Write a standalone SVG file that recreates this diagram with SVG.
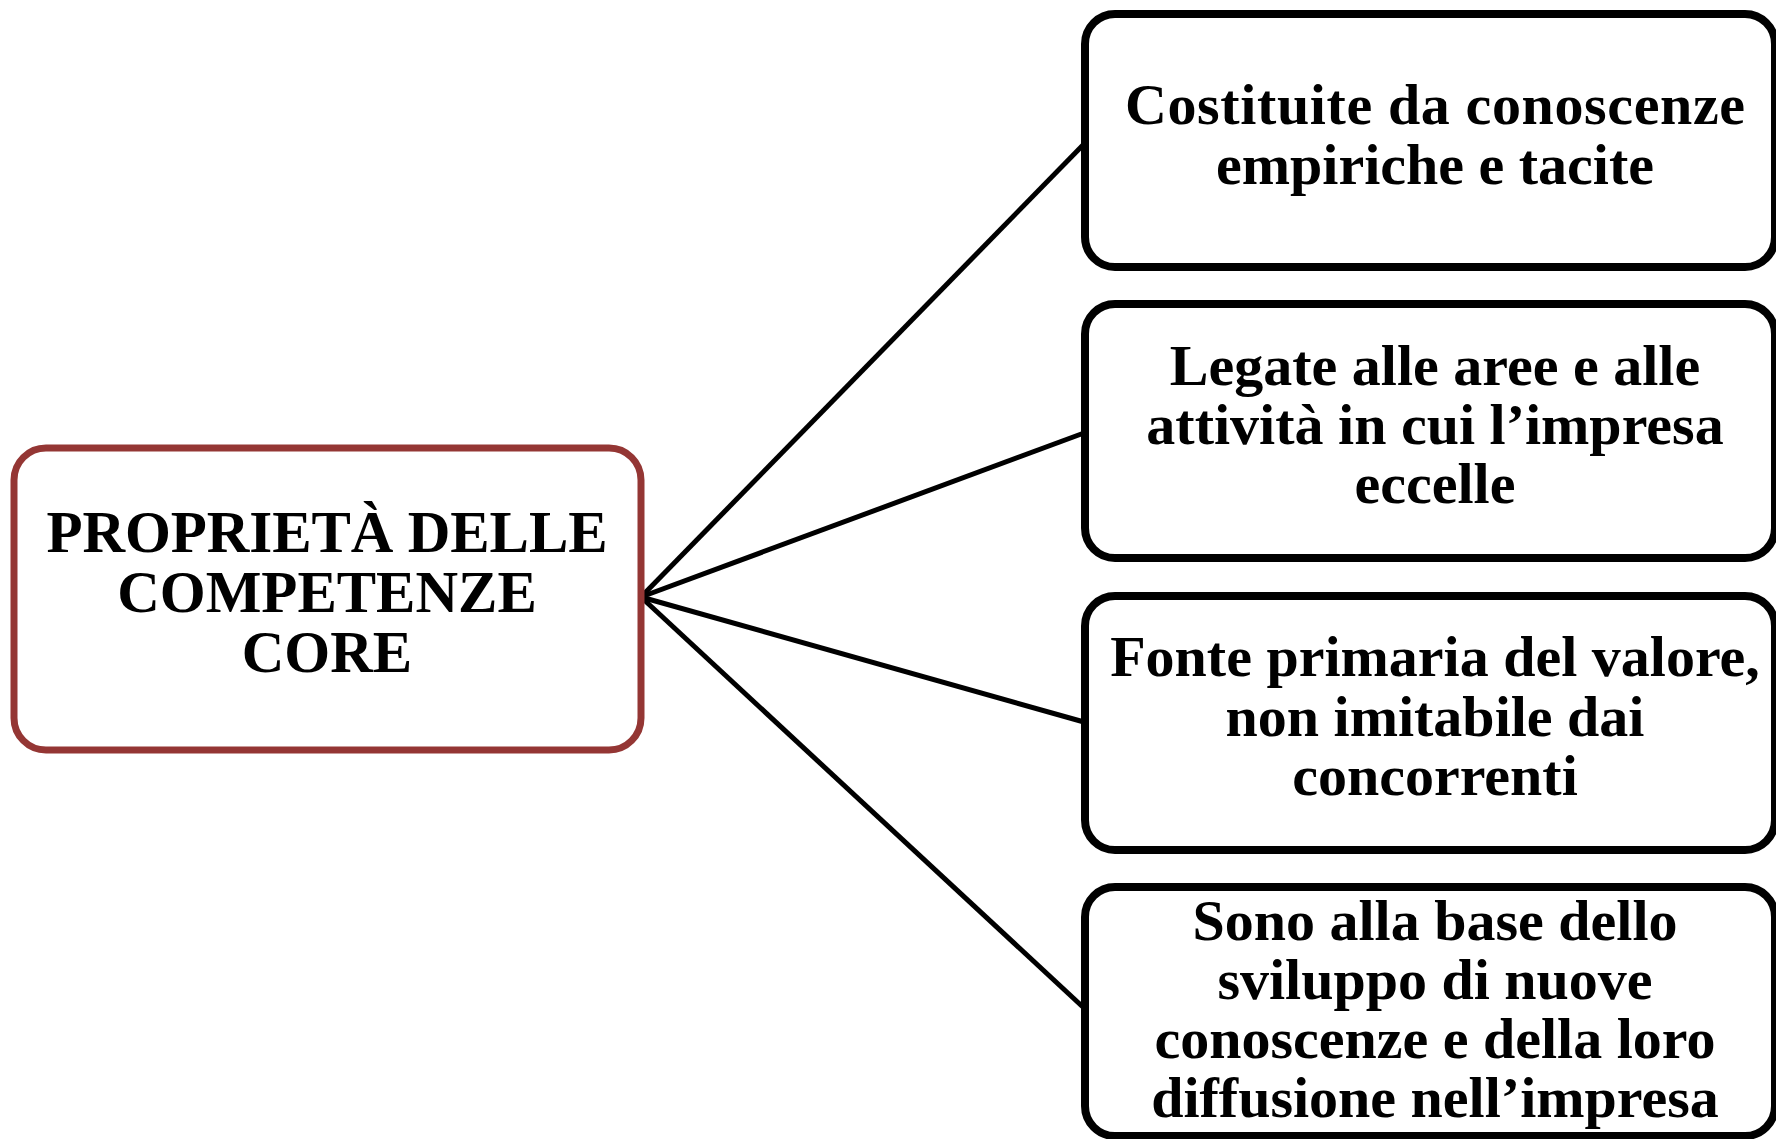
<svg xmlns="http://www.w3.org/2000/svg" width="1776" height="1139" viewBox="0 0 1776 1139">
<style>
.bg{fill:#ffffff}
.center{fill:#ffffff;stroke:#943634;stroke-width:7}
.box{fill:#ffffff;stroke:#000000;stroke-width:8}
.conn{stroke:#000000;stroke-width:5;fill:none}
text{font-family:"Liberation Serif","Times New Roman",serif;font-weight:bold;font-size:58px;fill:#000000;text-anchor:middle}
.ct{font-size:59px}
</style>
<rect class="bg" x="0" y="0" width="1776" height="1139"/>
<g id="connectors">
<line class="conn" x1="641" y1="597" x2="1084" y2="144"/>
<line class="conn" x1="641" y1="597" x2="1084" y2="433"/>
<line class="conn" x1="641" y1="597" x2="1084" y2="722"/>
<line class="conn" x1="641" y1="597" x2="1084" y2="1008"/>
</g>
<g id="node-center">
<rect class="center" x="14" y="448" width="627" height="302" rx="32" ry="32"/>
<text class="ct"><tspan x="327" y="552" textLength="561" lengthAdjust="spacing">PROPRIETÀ DELLE</tspan><tspan x="327" y="612">COMPETENZE</tspan><tspan x="327" y="672">CORE</tspan></text>
</g>
<g id="node-1">
<rect class="box" x="1085" y="14" width="690" height="253" rx="30" ry="30"/>
<text><tspan x="1435" y="124" textLength="620" lengthAdjust="spacing">Costituite da conoscenze</tspan><tspan x="1435" y="184">empiriche e tacite</tspan></text>
</g>
<g id="node-2">
<rect class="box" x="1085" y="304" width="690" height="254" rx="30" ry="30"/>
<text><tspan x="1435" y="385">Legate alle aree e alle</tspan><tspan x="1435" y="444">attività in cui l’impresa</tspan><tspan x="1435" y="503">eccelle</tspan></text>
</g>
<g id="node-3">
<rect class="box" x="1085" y="596" width="690" height="254" rx="30" ry="30"/>
<text><tspan x="1435" y="676">Fonte primaria del valore,</tspan><tspan x="1435" y="736">non imitabile dai</tspan><tspan x="1435" y="795">concorrenti</tspan></text>
</g>
<g id="node-4">
<rect class="box" x="1085" y="887" width="690" height="249" rx="30" ry="30"/>
<text><tspan x="1435" y="940">Sono alla base dello</tspan><tspan x="1435" y="999">sviluppo di nuove</tspan><tspan x="1435" y="1058">conoscenze e della loro</tspan><tspan x="1435" y="1117">diffusione nell’impresa</tspan></text>
</g>
</svg>
